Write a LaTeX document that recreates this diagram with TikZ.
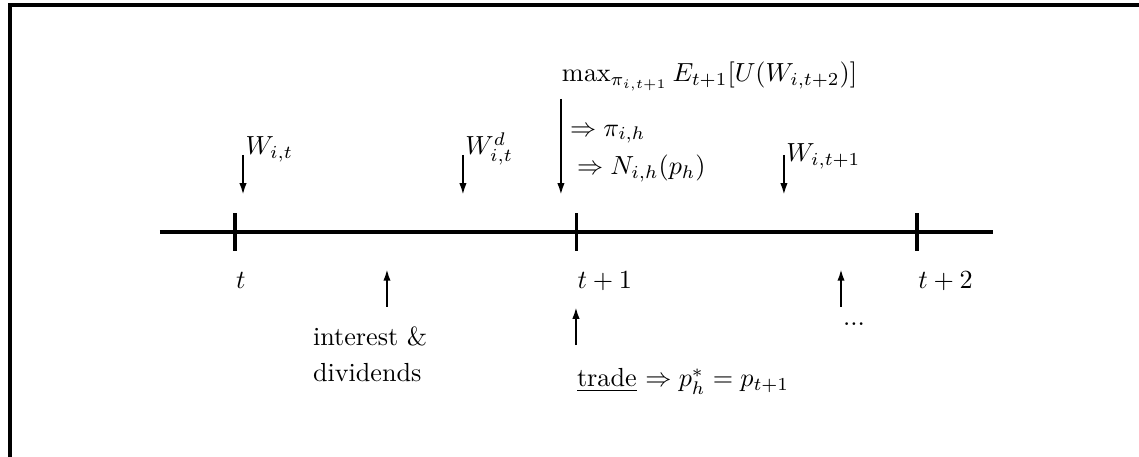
\documentclass[tikz,border=0pt]{standalone}
\usepackage{amsmath,amssymb}
\usepackage{tikz}
\usetikzlibrary{arrows.meta}

\begin{document}
\begin{tikzpicture}[>={Latex[length=4.5pt,width=2.8pt]}, thick,
    axis/.style={line width=1.5pt},
    lab/.style={anchor=base west, inner sep=0pt}]
    % 画布范围
    \useasboundingbox (-3.158,-3.024) rectangle (12.150,3.118);

    % 外框 (只有上边和左边)
    \draw[axis] (-3.024,-3.024) -- (-3.024,3.051) -- (12.150,3.051);

    % 时间轴
    \coordinate (A) at (-1.008,0);
    \coordinate (B) at (10.188,0);
    \draw[axis] (A) -- (B);

    % 刻度及时间标签
    \foreach \x/\name/\lab in {0/T0/{t}, 4.59/T1/{t+1}, 9.17/T2/{t+2}} {
        \draw[axis] (\x,-0.255) -- (\x,0.255);
        \node[lab] (\name) at (\x,-0.753) {$\lab$};
    }

    % 向下的箭头 (财富)
    \foreach \x/\y/\name/\lab in {0.108/1.035/Wt/{W_{i,t}}, 3.064/1.035/Wd/{W^d_{i,t}}, 7.378/0.941/Wn/{W_{i,t+1}}} {
        \coordinate (\name-top) at (\x,1.035);
        \coordinate (\name-end) at (\x,0.497);
        \draw[->] (\name-top) -- (\name-end);
        \node[lab] (\name) at (\x+0.02,\y) {$\lab$};
    }

    % 最优化问题
    \coordinate (opt-top) at (4.381,1.788);
    \coordinate (opt-end) at (4.381,0.497);
    \draw[->] (opt-top) -- (opt-end);
    \node[lab] (maxU) at (4.381,2.016) {$\max_{\pi_{i,t+1}} E_{t+1}[U(W_{i,t+2})]$};
    \node[lab] (pi) at (4.489,1.290) {$\Rightarrow \pi_{i,h}$};
    \node[lab] (N) at (4.583,0.766) {$\Rightarrow N_{i,h}(p_h)$};

    % 向上的箭头
    \foreach \x/\name in {2.043/div, 8.145/more} {
        \coordinate (\name-tail) at (\x,-1.008);
        \coordinate (\name-head) at (\x,-0.497);
        \draw[->] (\name-tail) -- (\name-head);
    }
    \coordinate (trade-tail) at (4.583,-1.519);
    \coordinate (trade-head) at (4.583,-1.008);
    \draw[->] (trade-tail) -- (trade-head);

    % 下方文字
    \node[lab] (interest) at (1.035,-1.519) {interest \&};
    \node[lab] (dividends) at (1.035,-2.012) {dividends};
    \node[lab] (dots) at (8.158,-1.263) {...};
    \node[lab] (trade) at (4.583,-2.079) {\underline{trade} $\Rightarrow p_h^* = p_{t+1}$};
\end{tikzpicture}
\end{document}
